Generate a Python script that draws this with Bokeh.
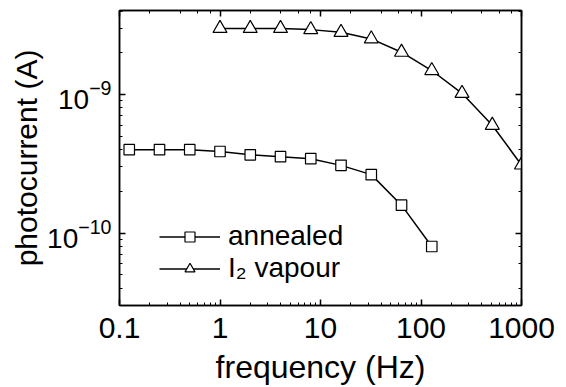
from bokeh.plotting import figure
from bokeh.models import (LogAxis, LogTicker, Legend, LegendItem, Range1d,
                          CustomJSTickFormatter)
from bokeh.embed import file_html
from bokeh.resources import INLINE

# data
freq_annealed = [0.125, 0.25, 0.5, 1, 2, 4, 8, 16, 32, 64, 128]
current_annealed = [4.0e-10, 4.0e-10, 4.0e-10, 3.88e-10, 3.67e-10, 3.56e-10,
                    3.44e-10, 3.08e-10, 2.64e-10, 1.59e-10, 8.0e-11]
freq_vapour = [1, 2, 4, 8, 16, 32, 64, 128, 256, 512, 1000]
current_vapour = [3.0e-9, 3.0e-9, 3.0e-9, 2.94e-9, 2.81e-9, 2.52e-9,
                  2.02e-9, 1.49e-9, 1.02e-9, 6.0e-10, 3.1e-10]
series_labels = ["annealed", "I\u2082 vapour"]
x_label = "frequency (Hz)"
y_label = "photocurrent (A)"

FONT = "Liberation Sans"

p = figure(width=566, height=387, x_axis_type="log", y_axis_type="log",
           x_range=Range1d(0.1, 1000), y_range=Range1d(3.0e-11, 4.04e-9),
           output_backend="svg", toolbar_location=None,
           min_border_left=119, min_border_right=45,
           min_border_top=10, min_border_bottom=82)
p.background_fill_color = "white"
p.border_fill_color = "white"
p.grid.visible = False
p.outline_line_color = "black"
p.outline_line_width = 1.5

l1 = p.line(freq_annealed, current_annealed, line_color="black", line_width=1.5)
s1 = p.scatter(freq_annealed, current_annealed, marker="square", size=10.5,
               fill_color="white", line_color="black", line_width=1.2)
l2 = p.line(freq_vapour, current_vapour, line_color="black", line_width=1.5)
s2 = p.scatter(freq_vapour, current_vapour, marker="triangle", size=14,
               fill_color="white", line_color="black", line_width=1.2)

xfmt = CustomJSTickFormatter(code="return Number(tick.toPrecision(6)).toString();")

def style_axis(ax, labels=True):
    ax.axis_line_width = 1.5
    ax.major_tick_in = 6
    ax.major_tick_out = 0
    ax.minor_tick_in = 3
    ax.minor_tick_out = 0
    ax.major_tick_line_width = 1.5
    ax.minor_tick_line_width = 1
    ax.major_label_text_font = FONT
    ax.major_label_text_color = "black"
    ax.axis_label_text_font = FONT
    ax.axis_label_text_font_style = "normal"
    ax.axis_label_text_color = "black"
    if not labels:
        ax.major_label_text_font_size = "2px"
        ax.major_label_text_alpha = 0
        ax.major_label_standoff = 0

xa = p.xaxis[0]
style_axis(xa)
xa.formatter = xfmt
xa.axis_label = x_label
xa.major_label_text_font_size = "30px"
xa.axis_label_text_font_size = "32px"
xa.major_label_standoff = 12
xa.axis_label_standoff = 8

ya = p.yaxis[0]
style_axis(ya)
ya.axis_label = y_label
ya.major_label_text_font_size = "28px"
ya.axis_label_text_font_size = "30px"
ya.major_label_standoff = 8
ya.axis_label_standoff = 1

top = LogAxis(ticker=LogTicker(), formatter=xfmt)
style_axis(top, labels=False)
right = LogAxis(ticker=LogTicker(), formatter=xfmt)
style_axis(right, labels=False)
p.add_layout(top, "above")
p.add_layout(right, "right")

legend = Legend(items=[LegendItem(label=series_labels[0], renderers=[l1, s1]),
                       LegendItem(label=series_labels[1], renderers=[l2, s2])],
                location=(40, 21), orientation="vertical")
legend.background_fill_alpha = 0
legend.border_line_color = None
legend.margin = 0
legend.padding = 0
legend.glyph_width = 61
legend.glyph_height = 25
legend.label_height = 25
legend.spacing = 0
legend.label_standoff = 8
legend.label_text_font = FONT
legend.label_text_font_size = "28px"
legend.label_text_color = "black"
p.add_layout(legend, "center")

open("out.html", "w").write(file_html(p, INLINE))
